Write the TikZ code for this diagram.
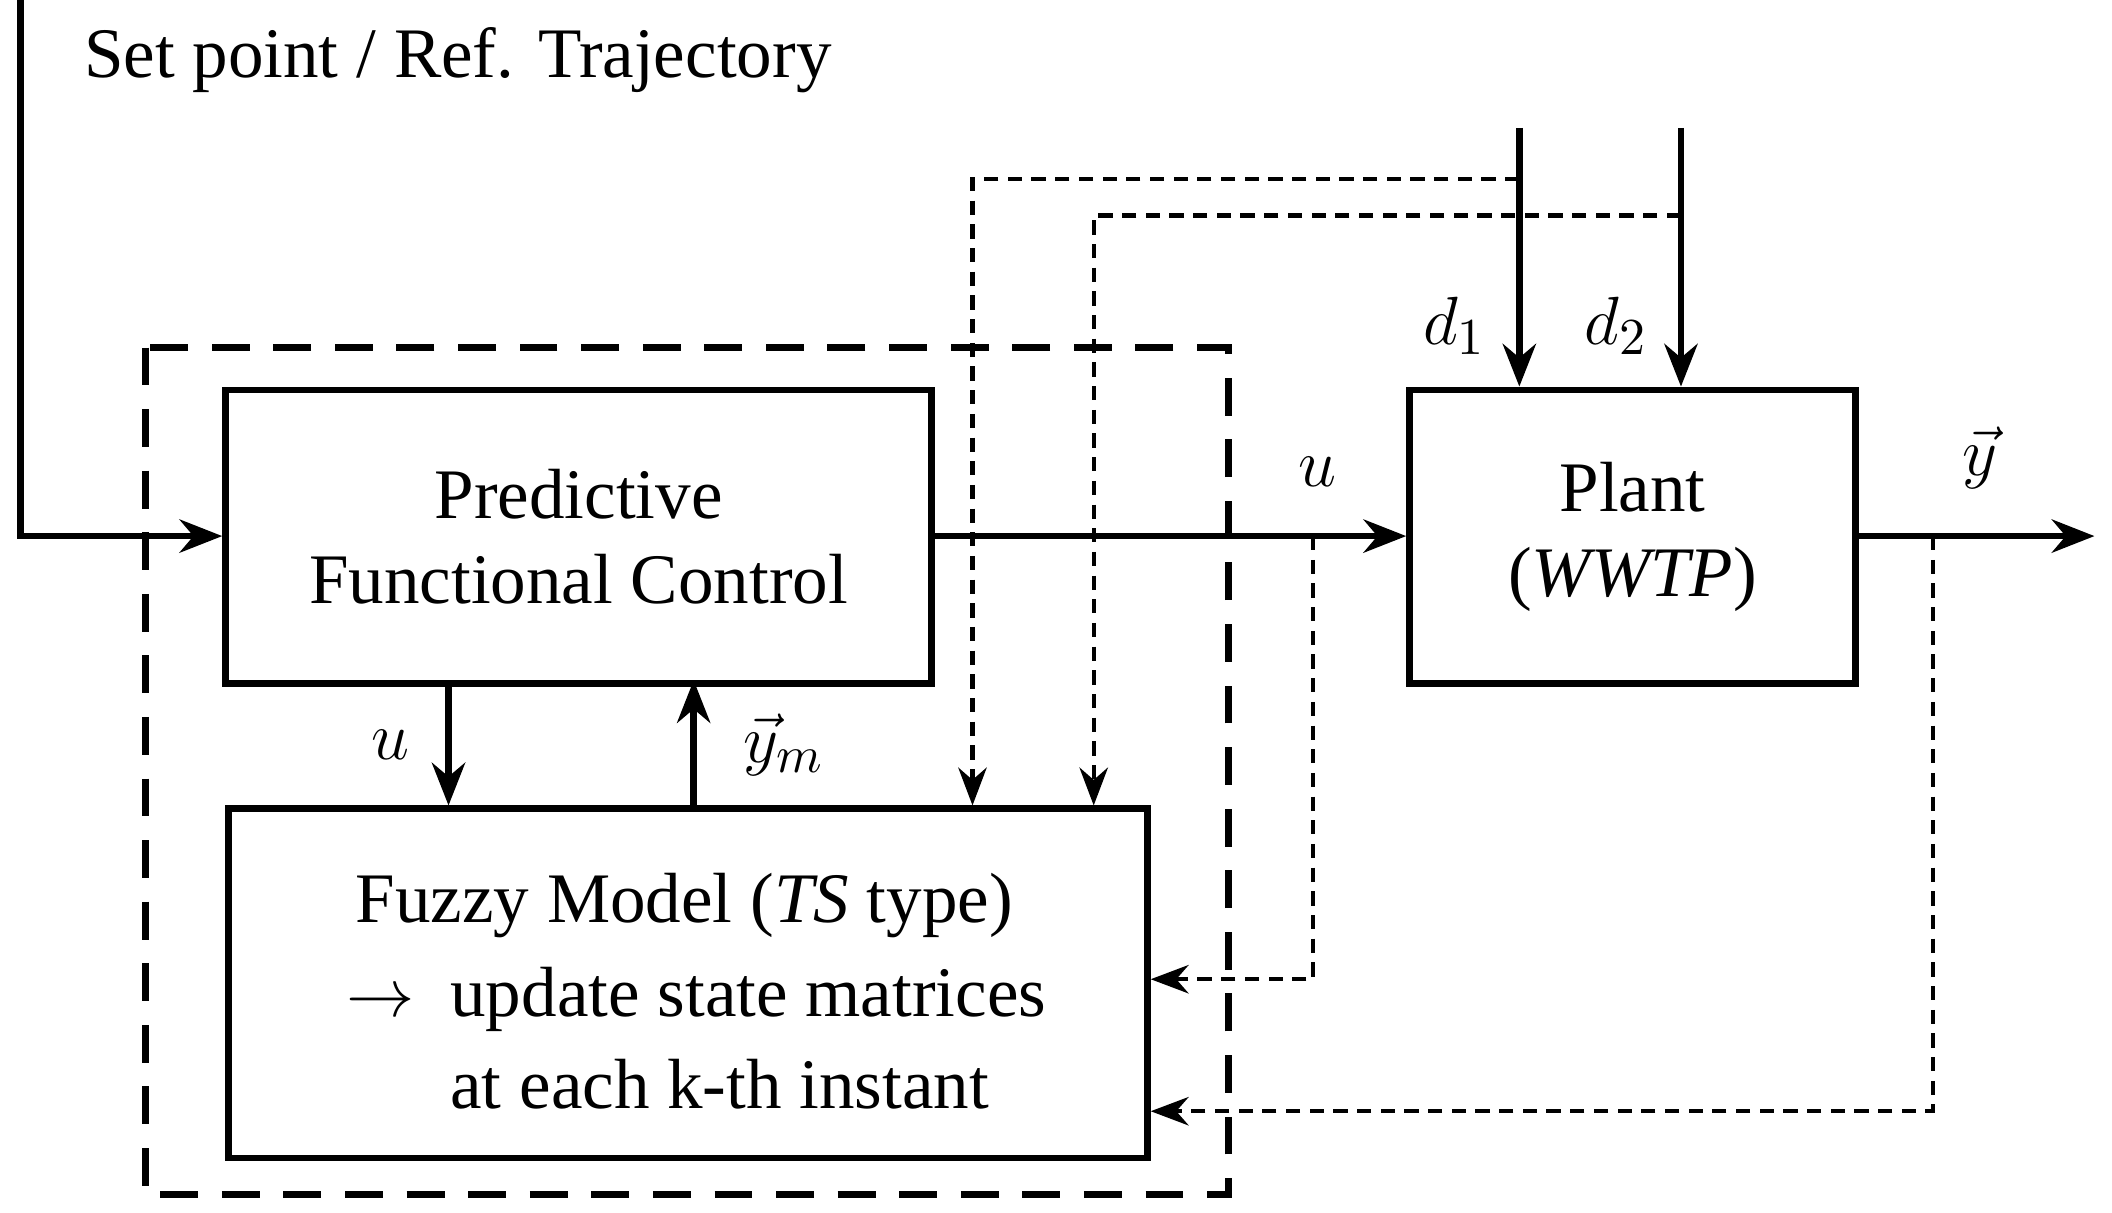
\documentclass[tikz,border=0pt]{standalone}
\usetikzlibrary{arrows.meta}
\usepackage{fontspec}
\setmainfont{Liberation Serif}
\begin{document}
\begin{tikzpicture}[x=0.01cm,y=-0.01cm,
 box/.style={draw,line width=1.4pt},
 arr/.style={line width=1.4pt,-{Stealth[length=9pt,width=7pt]}},
 darr/.style={line width=0.9pt,densely dashed,-{Stealth[length=8pt,width=6pt]}},
 lab/.style={font=\fontsize{15pt}{18pt}\selectfont}]
\useasboundingbox (0,0) rectangle (1568,900);
\draw[line width=1.4pt,dash pattern=on 8pt off 5pt] (108,258) rectangle (912,887);
\node[box,minimum width=5.24cm,minimum height=2.18cm,anchor=north west,lab,align=center] (pfc) at (165,287) {Predictive\\Functional Control};
\node[box,minimum width=6.82cm,minimum height=2.59cm,anchor=north west] (fm) at (167,598) {};
\node[lab,anchor=center] (fmt) at (508,672) {Fuzzy Model (\textit{TS} type)};
\node[lab,anchor=west] (fm2) at (245,742) {$\rightarrow$\ \ update state matrices};
\node[lab,anchor=west] (fm3) at (322,805) {at each k-th instant};
\node[box,minimum width=3.31cm,minimum height=2.18cm,anchor=north west,lab,align=center] (pl) at (1044,287) {Plant\\(\textit{WWTP})};
\node[lab,anchor=west] (sp) at (50,45) {Set point / Ref. Trajectory};
\coordinate (s0) at (15,0);
\coordinate (s1) at (15,398);
\draw[arr] (s0) -- (s1) -- (pfc.west|-s1);
\draw[arr] (pfc.east|-s1) -- (pl.west|-s1);
\node[lab] (ul) at (978,350) {$u$};
\coordinate (yo) at (1555,398);
\draw[arr] (pl.east|-yo) -- (yo);
\node[lab] (yl) at (1470,340) {$\vec{y}$};
\coordinate (d1t) at (1128,95);
\coordinate (d2t) at (1248,95);
\draw[arr] (d1t) -- (d1t|-pl.north);
\draw[arr] (d2t) -- (d2t|-pl.north);
\node[lab] (d1) at (1080,242) {$d_1$};
\node[lab] (d2) at (1200,242) {$d_2$};
\coordinate (a1) at (1128,133); \coordinate (a2) at (722,133);
\coordinate (b1) at (1248,160); \coordinate (b2) at (812,160);
\draw[darr] (a1) -- (a2) -- (a2|-fm.north);
\draw[darr] (b1) -- (b2) -- (b2|-fm.north);
\coordinate (c1) at (975,398); \coordinate (c2) at (975,727);
\draw[darr] (c1) -- (c2) -- (fm.east|-c2);
\coordinate (e1) at (1435,398); \coordinate (e2) at (1435,825);
\draw[darr] (e1) -- (e2) -- (fm.east|-e2);
\coordinate (p1) at (333,505); \coordinate (p2) at (515,505);
\draw[arr] (p1) -- (p1|-fm.north);
\draw[arr] (p2|-fm.north) -- (p2);
\node[lab] (u2) at (290,553) {$u$};
\node[lab] (ym) at (582,553) {$\vec{y}_m$};
\end{tikzpicture}
\end{document}
